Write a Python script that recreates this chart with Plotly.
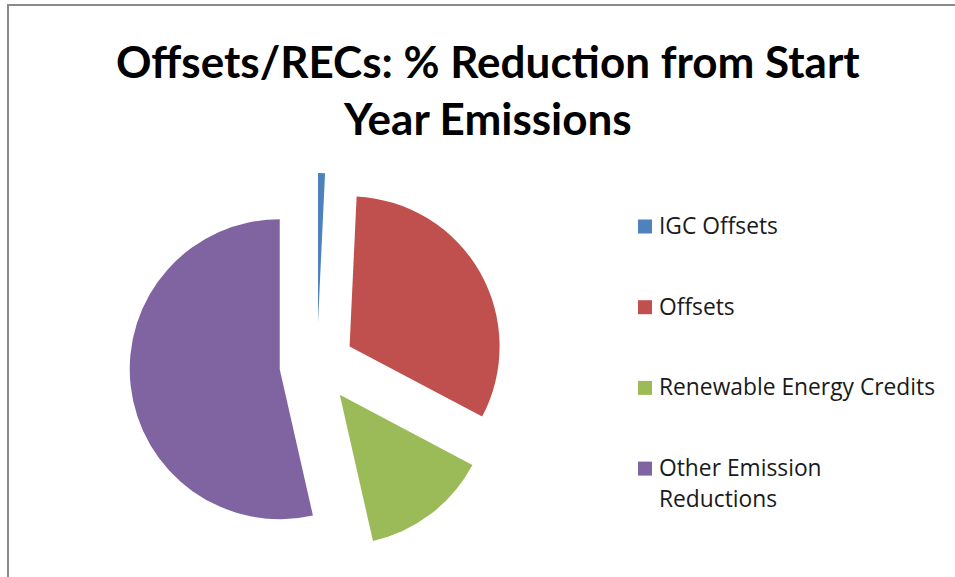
import textwrap
import plotly.graph_objects as go

# Share of start-year emissions reduction by source (%)
labels = ["IGC Offsets", "Offsets", "Renewable Energy Credits", "Other Emission Reductions"]
values = [0.75, 32.0, 13.7, 53.55]
colors = ["#4F81BD", "#C0504D", "#9BBB59", "#8064A2"]
pulls = [0.28, 0.25, 0.25, 0.25]

title_text = "Offsets/RECs: % Reduction from Start<br>Year Emissions"

W, H = 955, 577

fig = go.Figure(
    go.Pie(
        labels=labels,
        values=values,
        marker=dict(colors=colors, line=dict(width=0)),
        pull=pulls,
        sort=False,
        direction="clockwise",
        rotation=0,
        textinfo="none",
        hoverinfo="label+percent",
        showlegend=False,
        domain=dict(x=[125 / W, 509 / W], y=[18 / H, 406 / H]),
    )
)

# Legend drawn as key squares plus labels, one row per slice
legend_font = dict(family="Open Sans, sans-serif", size=22.8, color="#1a1a1a")
row0, row_gap, line_gap = 226.5, 80.7, 31
key_x0, key_size, text_x = 638, 14, 657
shapes = []
annotations = []
for i, (lab, col) in enumerate(zip(labels, colors)):
    cy = row0 + i * row_gap
    shapes.append(dict(
        type="rect", xref="paper", yref="paper",
        x0=key_x0 / W, x1=(key_x0 + key_size) / W,
        y0=1 - (cy - key_size / 2) / H, y1=1 - (cy + key_size / 2) / H,
        fillcolor=col, line=dict(width=0),
    ))
    for j, line in enumerate(textwrap.wrap(lab, width=24)):
        annotations.append(dict(
            text=line, xref="paper", yref="paper",
            x=text_x / W, y=1 - (cy - 1 + j * line_gap) / H,
            xanchor="left", yanchor="middle", showarrow=False,
            font=legend_font,
        ))

# Chart title
annotations.append(dict(
    text=title_text, xref="paper", yref="paper",
    x=488 / W, y=1 - 89 / H, xanchor="center", yanchor="middle",
    showarrow=False,
    font=dict(family="Lato, sans-serif", size=44, color="black", weight="bold"),
))

# Chart-area frame (top and left edges visible)
shapes.append(dict(
    type="rect", xref="paper", yref="paper",
    x0=8 / W, x1=1.05, y0=-0.05, y1=1 - 5 / H,
    line=dict(color="#8a8a8a", width=2), fillcolor="rgba(0,0,0,0)",
))

fig.update_layout(
    width=W, height=H,
    margin=dict(l=0, r=0, t=0, b=0),
    paper_bgcolor="white",
    shapes=shapes,
    annotations=annotations,
)

fig.write_html("out.html")
